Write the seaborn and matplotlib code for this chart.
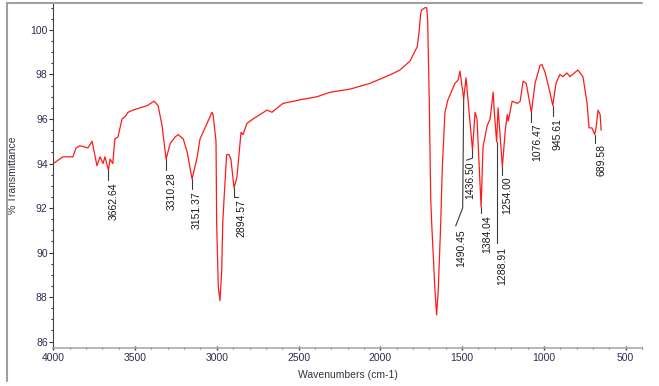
import numpy as np
import pandas as pd
import matplotlib
matplotlib.use('Agg')
import matplotlib.pyplot as plt
import matplotlib.transforms as mtransforms
from matplotlib.lines import Line2D
from matplotlib.ticker import MultipleLocator
import seaborn as sns

# FTIR spectrum (wavenumber in cm-1, % transmittance)
wavenumber = [4000, 3941, 3880, 3861, 3837, 3788, 3763, 3733, 3714, 3696, 3684, 3662.64,
              3653, 3636, 3624, 3604, 3580, 3562, 3543, 3513, 3469, 3426, 3384, 3359, 3335,
              3310.28, 3285, 3254, 3236, 3205, 3181, 3151.37, 3120, 3103, 3060, 3030, 3023,
              3005, 3001, 2991, 2981, 2970, 2964, 2956, 2940, 2926, 2914, 2894.57, 2877, 2852,
              2840, 2816, 2779, 2736, 2693, 2663, 2596, 2492, 2388, 2308, 2186, 2064, 1941,
              1880, 1819, 1774, 1762, 1753, 1747, 1727, 1717, 1711, 1701, 1692, 1686, 1666,
              1656, 1646, 1631, 1621, 1605, 1587, 1544, 1525, 1513, 1490.45, 1476, 1436.50,
              1421, 1409, 1384.04, 1372, 1347, 1329, 1310, 1304, 1288.91, 1280, 1254.00, 1236,
              1224, 1218, 1194, 1163, 1145, 1127, 1108, 1076.47, 1054, 1024, 1012, 993, 963,
              945.61, 926, 902, 883, 859, 841, 792, 761, 736, 724, 706, 689.58, 681, 669, 656, 650]
transmittance = [94.0, 94.3, 94.3, 94.7, 94.8, 94.7, 95.0, 93.9, 94.3, 94.0, 94.3, 93.7,
                 94.2, 94.0, 95.1, 95.2, 96.0, 96.1, 96.3, 96.4, 96.5, 96.6, 96.8, 96.6, 95.7,
                 94.2, 94.9, 95.2, 95.3, 95.1, 94.5, 93.3, 94.3, 95.1, 95.8, 96.3, 96.2,
                 95.0, 91.3, 88.45, 87.84, 89.2, 91.3, 92.4, 94.4, 94.4, 94.2, 92.9, 93.4, 95.4,
                 95.3, 95.8, 96.0, 96.2, 96.4, 96.3, 96.7, 96.86, 97.0, 97.2, 97.34, 97.6, 97.98,
                 98.2, 98.6, 99.25, 100.0, 100.75, 100.9, 101.0, 101.0, 100.5, 96.86, 92.4, 91.3, 88.3,
                 87.2, 88.3, 91.3, 93.85, 96.3, 96.86, 97.6, 97.75, 98.15, 96.9, 97.85, 94.6,
                 96.3, 96.0, 92.05, 94.75, 95.7, 96.0, 97.2, 96.4, 94.97, 96.5, 93.85, 95.5,
                 96.2, 95.9, 96.8, 96.7, 96.8, 97.7, 97.6, 96.3, 97.6, 98.4, 98.45, 98.1, 97.2,
                 96.6, 97.6, 98.0, 97.9, 98.07, 97.9, 98.2, 97.9, 96.7, 95.6, 95.6, 95.3, 95.6, 96.4, 96.2, 95.5]

# labelled peaks
peaks = [3662.64, 3310.28, 3151.37, 2894.57, 1490.45, 1436.50,
         1384.04, 1288.91, 1254.00, 1076.47, 945.61, 689.58]

x_ticks = [4000, 3500, 3000, 2500, 2000, 1500, 1000, 500]
y_ticks = [86, 88, 90, 92, 94, 96, 98, 100]

# leader path (pixel offsets from the peak) and text anchor offset
leaders = {
    3662.64: ([(0, 0), (0, -10)], (5, -12)),
    3310.28: ([(0, 0), (0, -11)], (6, -13)),
    3151.37: ([(0, 0), (0, -10)], (5, -12)),
    2894.57: ([(0, 0), (0, -9), (4, -9)], (7, -11)),
    1490.45: ([(0, 0), (-1, -109), (-8, -127)], (-2, -130)),
    1436.50: ([(0, 0), (0, -8), (-6, -10)], (-2, -11)),
    1384.04: ([(0, 0), (0, -6)], (6, -8)),
    1288.91: ([(0, 0), (0, -101)], (6, -105)),
    1254.00: ([(0, 0), (0, -8)], (5, -10)),
    1076.47: ([(0, 0), (0, -10)], (6, -11)),
    945.61: ([(0, 0), (0, -10)], (5, -12)),
    689.58: ([(0, 0), (0, -8)], (7, -9)),
}

df = pd.DataFrame({'wn': wavenumber, 'T': transmittance})

sns.set_style('white')
plt.rcParams['font.family'] = ['Liberation Sans Narrow', 'Liberation Sans', 'DejaVu Sans']

fig = plt.figure(figsize=(6.59, 3.86), dpi=100)
ax = fig.add_axes([53.3 / 659, 1 - 348.3 / 386, (642 - 53.3) / 659, (348.3 - 3) / 386])

sns.lineplot(data=df, x='wn', y='T', ax=ax, color='#ff1a1a', lw=0.9,
             estimator=None, sort=True)

ax.set_xlim(4000, 400)
ax.set_ylim(85.7, 101.21)

ax.set_xticks(x_ticks)
ax.set_xticklabels([str(v) for v in x_ticks])
ax.set_yticks(y_ticks)
ax.set_yticklabels([str(v) for v in y_ticks])
ax.xaxis.set_minor_locator(MultipleLocator(100))
ax.yaxis.set_minor_locator(MultipleLocator(0.5))

tick_col = '#2e2e50'
ax.tick_params(axis='y', which='major', direction='out', length=3, width=0.8,
               color='#333333', labelsize=7.5, labelcolor=tick_col, pad=1, left=True)
ax.tick_params(axis='y', which='minor', direction='out', length=1.5, width=0.8,
               color='#333333', left=True)
ax.tick_params(axis='x', which='major', direction='inout', length=2.5, width=1,
               color='#333333', labelsize=7.5, labelcolor=tick_col, pad=2, bottom=True)
ax.tick_params(axis='x', which='minor', direction='inout', length=2, width=0.8,
               color='#555555', bottom=True)

for side in ['top', 'right']:
    ax.spines[side].set_visible(False)
ax.spines['left'].set_color('#444444')
ax.spines['left'].set_linewidth(0.8)
ax.spines['bottom'].set_color('#aaaaaa')
ax.spines['bottom'].set_linewidth(1.2)

ax.set_xlabel('Wavenumbers (cm-1)', fontsize=7.5, color='#333340')
ax.set_ylabel('% Transmittance', fontsize=7.5, color='#333340')
ax.xaxis.set_label_coords(0.5, -0.077)
ax.yaxis.set_label_coords(-0.0685, 0.5)
ax.xaxis.label.set_va('center')
ax.yaxis.label.set_va('center')

# peak labels with leader lines
wn_sorted = np.array(wavenumber)[::-1]
t_sorted = np.array(transmittance)[::-1]
for p in peaks:
    t = np.interp(p, wn_sorted, t_sorted)
    tr = mtransforms.IdentityTransform() + mtransforms.ScaledTranslation(p, t, ax.transData)
    path, (tx, ty) = leaders[p]
    xs, ys = zip(*path)
    ax.add_line(Line2D(xs, ys, transform=tr, color='#3a3a3a', lw=0.8))
    ax.text(tx, ty, f'{p:.2f}', transform=tr, rotation=90, ha='center', va='top',
            fontsize=7.5, color='#1a1a1a', family=['Liberation Sans', 'DejaVu Sans'])

ax.set_xlim(4000, 400)
ax.set_ylim(85.7, 101.21)

# outer frame (left and top)
fig.add_artist(Line2D([7 / 659, 7 / 659], [1 - 381 / 386, 1 - 3 / 386],
                      transform=fig.transFigure, color='#a0a0a0', lw=1.5))
fig.add_artist(Line2D([7 / 659, 642 / 659], [1 - 3 / 386, 1 - 3 / 386],
                      transform=fig.transFigure, color='#a0a0a0', lw=1.5))

fig.savefig('out.png', dpi=100)
